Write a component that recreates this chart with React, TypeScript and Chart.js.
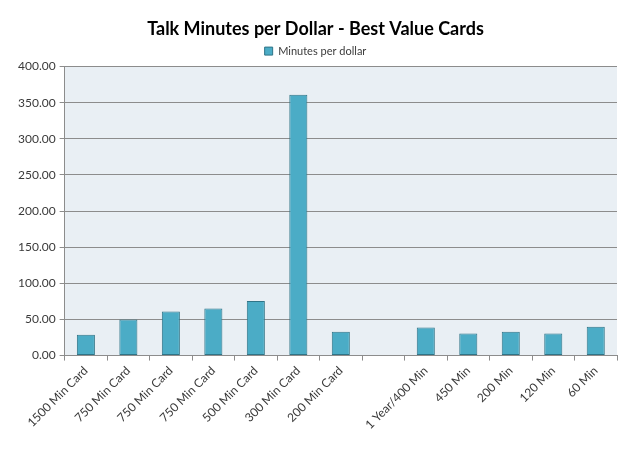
import { useEffect, useRef } from "react"
import Chart from "chart.js/auto"

const categories = [
  "1500 Min Card",
  "750 Min Card",
  "750 Min Card",
  "750 Min Card",
  "500 Min Card",
  "300 Min Card",
  "200 Min Card",
  "",
  "1 Year/400 Min",
  "450 Min",
  "200 Min",
  "120 Min",
  "60 Min",
]
const minutesPerDollar = [28.9, 50, 61, 65, 75.5, 361, 33, null, 39, 30.5, 33, 30.5, 40]
const yTicks = [0, 50, 100, 150, 200, 250, 300, 350, 400]

const plotBackground = {
  id: "plotBackground",
  beforeDraw(chart: Chart) {
    const { ctx, chartArea } = chart
    ctx.save()
    ctx.fillStyle = "#e9eff4"
    ctx.fillRect(chartArea.left, chartArea.top, chartArea.right - chartArea.left, chartArea.bottom - chartArea.top)
    ctx.restore()
  },
}

export default function App() {
  const canvasRef = useRef<HTMLCanvasElement>(null)

  useEffect(() => {
    document.body.style.margin = "0"
    if (!canvasRef.current) return
    const chart = new Chart(canvasRef.current, {
      type: "bar",
      data: {
        labels: categories,
        datasets: [
          {
            label: "Minutes per dollar",
            data: minutesPerDollar,
            backgroundColor: "#4bacc6",
            borderColor: "#2f7487",
            borderWidth: 1,
            borderSkipped: false,
            barPercentage: 0.5,
            categoryPercentage: 0.85,
          },
        ],
      },
      options: {
        animation: false,
        responsive: true,
        maintainAspectRatio: false,
        layout: { padding: { left: 14, right: 23, top: 0, bottom: 24 } },
        scales: {
          x: {
            grid: {
              offset: true,
              drawOnChartArea: false,
              drawTicks: true,
              tickLength: 5,
              color: "#8c8c8c",
            },
            border: { color: "#8c8c8c" },
            ticks: {
              minRotation: 45,
              maxRotation: 45,
              autoSkip: false,
              color: "#3a3a3a",
              font: { family: "Lato", size: 12 },
            },
          },
          y: {
            min: 0,
            max: 400,
            afterBuildTicks: (axis) => {
              axis.ticks = yTicks.map((v) => ({ value: v }))
            },
            grid: { color: "#8c8c8c", tickLength: 5 },
            border: { color: "#8c8c8c" },
            ticks: {
              color: "#3a3a3a",
              padding: 4,
              font: { family: "Lato", size: 12 },
              callback: (v) => Number(v).toFixed(2),
            },
          },
        },
        plugins: {
          title: {
            display: true,
            text: "Talk Minutes per Dollar - Best Value Cards",
            color: "#000",
            font: { family: "Lato", size: 18, weight: "bold" },
            padding: { top: 18, bottom: 0 },
          },
          legend: {
            position: "top",
            labels: {
              boxWidth: 8,
              boxHeight: 8,
              padding: 6,
              color: "#3a3a3a",
              font: { family: "Lato", size: 11 },
            },
          },
          tooltip: { enabled: false },
        },
      },
      plugins: [plotBackground],
    })
    return () => chart.destroy()
  }, [])

  return (
    <div style={{ width: 640, height: 459 }}>
      <canvas ref={canvasRef}></canvas>
    </div>
  )
}
